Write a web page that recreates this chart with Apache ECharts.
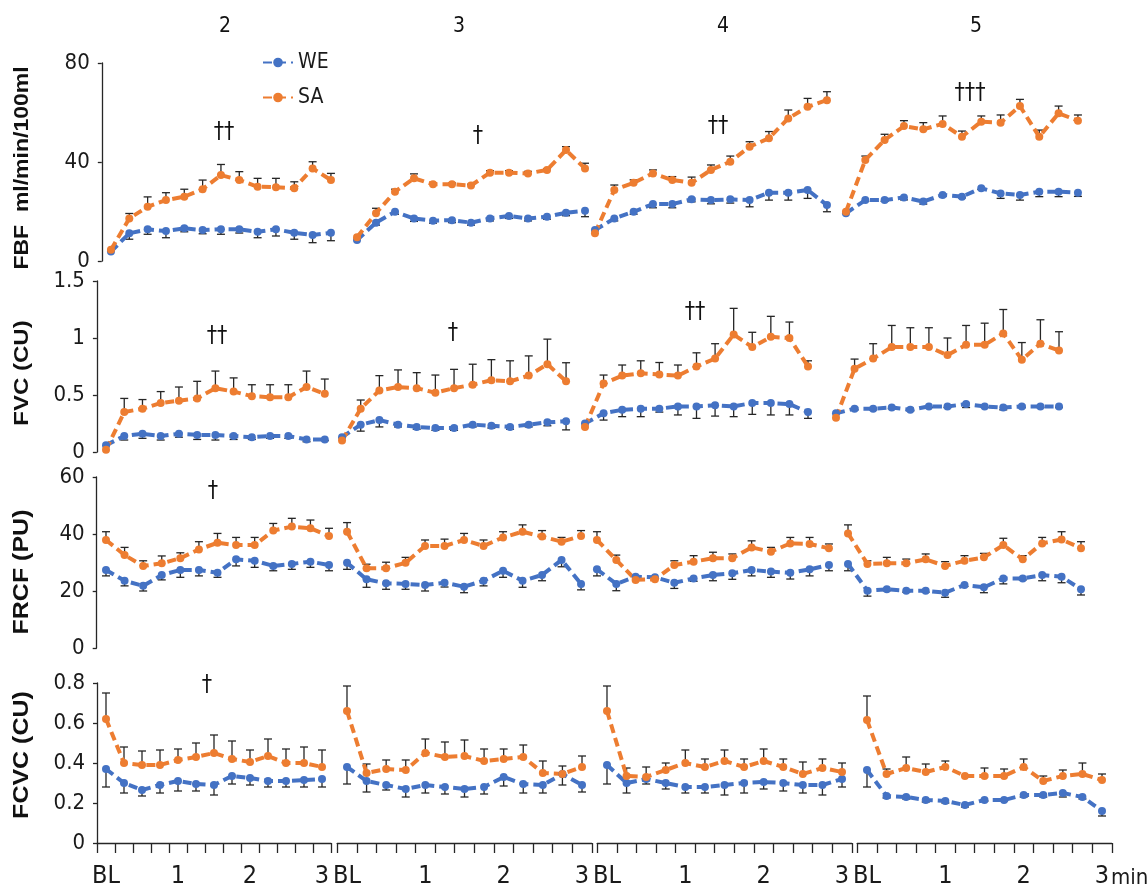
<!DOCTYPE html>
<html>
<head>
<meta charset="utf-8">
<script src="https://cdn.jsdelivr.net/npm/echarts@6/dist/echarts.min.js"></script>
<style>
  html, body { margin: 0; padding: 0; background: #fff; }
  #chart { width: 1147px; height: 893px; }
</style>
</head>
<body>
<div id="chart"></div>
<script>
// Time points inside each session block: baseline, then every 15 s up to 3 min
const timeLabels = ['BL', '', '', '', '1', '', '', '', '2', '', '', '', '3'];
const blockTitles = ['2', '3', '4', '5'];
const groupNames = ['WE', 'SA'];

// Forearm blood flow, ml/min/100ml (4 blocks x 13 points)
const fbfWE = [
  3.8, 11.2, 12.8, 12.1, 13.2, 12.5, 12.8, 12.8, 11.8, 12.8, 11.4, 10.5, 11.4,
  8.5, 15.5, 19.9, 17.2, 16.3, 16.5, 15.5, 17.2, 18.2, 17.2, 17.9, 19.5, 20.3,
  12.5, 17.2, 19.9, 23, 23, 24.9, 24.6, 24.9, 24.6, 27.6, 27.6, 28.7, 22.6,
  19.3, 24.6, 24.6, 25.7, 24, 26.7, 26, 29.4, 27.3, 26.7, 28, 28, 27.6
];
const fbfWEse = [
  0, 2.4, 2, 2.7, 1.4, 1.5, 2, 1.5, 2.4, 2.7, 2.6, 3.1, 3.2,
  0, 1, 1, 1.2, 1, 1, 1, 1, 1, 1, 1, 1.2, 2.4,
  0, 1, 1, 1.5, 1.5, 1, 1.5, 1.5, 2.7, 3, 3, 3.4, 2.7,
  0, 0.5, 0.5, 1, 1, 0.5, 0.5, 0.5, 2, 2.1, 2, 2, 1.5
];
const fbfSA = [
  4.5, 17.2, 21.9, 24.6, 26, 29, 34.7, 32.7, 30, 29.8, 29.4, 37.4, 32.7,
  9.6, 19.3, 28, 33.4, 31, 31, 30.5, 35.7, 35.7, 35.4, 36.8, 44.8, 37.4,
  11.2, 28.7, 31.6, 35.4, 32.7, 31.6, 36.8, 40.1, 46.2, 49.6, 57.6, 62.3, 65,
  19.9, 40.8, 48.9, 54.5, 53.2, 55.4, 50.2, 56.3, 55.9, 62.6, 50.2, 59.7, 56.7
];
const fbfSAse = [
  0, 2, 4, 3, 3, 3.7, 4.3, 3.4, 3.4, 3.6, 2.6, 2.7, 2.7,
  0, 2, 1, 1.8, 0.5, 0.5, 0.5, 0.8, 0.8, 0.8, 0.5, 1.4, 2.1,
  0, 2, 1.2, 1.4, 1.4, 2.3, 2, 2.3, 2, 2.7, 3.4, 3.4, 3.4,
  0, 1.6, 2.3, 2.2, 2.7, 3.2, 2.3, 2.3, 3.1, 2.7, 2.7, 2.9, 2.3
];

// Forearm vascular conductance, CU
const fvcWE = [
  0.06, 0.14, 0.16, 0.14, 0.16, 0.15, 0.15, 0.14, 0.13, 0.14, 0.14, 0.11, 0.11,
  0.13, 0.24, 0.28, 0.24, 0.22, 0.21, 0.21, 0.24, 0.23, 0.22, 0.24, 0.26, 0.27,
  0.25, 0.34, 0.37, 0.38, 0.38, 0.4, 0.4, 0.41, 0.4, 0.43, 0.43, 0.42, 0.35,
  0.34, 0.38, 0.38, 0.39, 0.37, 0.4, 0.4, 0.42, 0.4, 0.39, 0.4, 0.4, 0.4
];
const fvcWEse = [
  0, 0.035, 0.04, 0.035, 0.03, 0.04, 0.045, 0.03, 0.02, 0.02, 0.02, 0.02, 0.01,
  0, 0.057, 0.06, 0.02, 0.02, 0.02, 0.02, 0.02, 0.02, 0.02, 0.02, 0.03, 0.076,
  0, 0.06, 0.06, 0.07, 0.03, 0.075, 0.105, 0.095, 0.09, 0.1, 0.105, 0.095, 0.055,
  0, 0.01, 0.01, 0.01, 0.01, 0.01, 0.01, 0.03, 0.01, 0.02, 0.01, 0.01, 0.01
];
const fvcSA = [
  0.02, 0.35, 0.38, 0.43, 0.45, 0.47, 0.56, 0.53, 0.49, 0.48, 0.48, 0.57, 0.51,
  0.1, 0.38, 0.54, 0.57, 0.56, 0.52, 0.56, 0.59, 0.63, 0.62, 0.67, 0.77, 0.62,
  0.22, 0.6, 0.67, 0.69, 0.68, 0.67, 0.75, 0.82, 1.03, 0.92, 1.01, 1.0, 0.75,
  0.3, 0.73, 0.82, 0.92, 0.92, 0.92, 0.85, 0.94, 0.94, 1.04, 0.81, 0.95, 0.89
];
const fvcSAse = [
  0, 0.12, 0.08, 0.1, 0.12, 0.15, 0.15, 0.12, 0.1, 0.11, 0.11, 0.14, 0.13,
  0, 0.076, 0.13, 0.15, 0.136, 0.155, 0.165, 0.18, 0.18, 0.18, 0.173, 0.22, 0.163,
  0, 0.075, 0.093, 0.11, 0.105, 0.093, 0.12, 0.13, 0.23, 0.13, 0.18, 0.14, 0.05,
  0, 0.085, 0.13, 0.19, 0.17, 0.17, 0.15, 0.17, 0.19, 0.21, 0.15, 0.21, 0.165
];

// Forearm red cell flux, PU
const frcfWE = [
  27.4, 23.6, 21.8, 25.6, 27.4, 27.4, 26.4, 31.1, 30.6, 28.8, 29.5, 30.3, 29.1,
  29.9, 24.1, 22.7, 22.5, 22.1, 22.9, 21.5, 23.6, 27.1, 23.6, 25.6, 30.9, 22.5,
  27.6, 22.5, 25, 24.8, 22.9, 24.4, 25.6, 26.2, 27.4, 26.8, 26.4, 27.6, 29.1,
  29.5, 20.1, 20.6, 20.1, 20.1, 19.4, 22.1, 21.3, 24.4, 24.4, 25.6, 25, 20.6
];
const frcfWEse = [
  2.1, 1.8, 1.8, 1.7, 2.6, 2.1, 1.6, 2.3, 2.3, 1.7, 1.9, 2, 2,
  2.3, 2.8, 2.1, 1.9, 2.1, 1.5, 2.1, 1.8, 2.3, 2.3, 2, 2.4, 2.1,
  2.3, 2.4, 0, 0, 2, 1, 2, 2.1, 2.1, 2, 2.2, 2.3, 2,
  2.4, 1.9, 0.5, 0.5, 0.5, 1.6, 0.5, 1.9, 1.9, 0.5, 2, 2.1, 2
];
const frcfSA = [
  37.9, 32.6, 28.8, 29.7, 31.5, 34.6, 36.9, 36.1, 36.1, 41.2, 42.6, 42, 39.3,
  40.8, 28, 28, 29.9, 35.8, 35.8, 37.9, 35.8, 38.8, 40.8, 39.1, 37.3, 39.3,
  37.9, 30.9, 23.9, 24.1, 29.1, 30.3, 31.5, 31.5, 35.3, 33.8, 36.7, 36.5, 35,
  40.2, 29.5, 29.7, 29.7, 31.1, 28.8, 30.6, 31.8, 36.1, 31.1, 36.7, 38.1, 35
];
const frcfSAse = [
  2.9, 2.7, 1.8, 2.6, 1.9, 2.7, 3.3, 2.7, 2.7, 2.5, 2.9, 2.9, 2.7,
  3.2, 1.4, 2.1, 1.9, 2.1, 2.4, 2.3, 2.1, 2, 2.4, 2.1, 1.5, 1.9,
  2.9, 1.7, 0, 0, 1.5, 2.1, 2.1, 1.5, 2.3, 1.5, 2.1, 2.3, 1.5,
  3, 1.1, 2.1, 1.5, 1.9, 1.5, 1.8, 1.4, 2.4, 1.3, 2.1, 2.7, 2.3
];

// Forearm cutaneous vascular conductance, CU
const fcvcWE = [
  0.37, 0.3, 0.265, 0.29, 0.31, 0.295, 0.29, 0.335, 0.325, 0.31, 0.31, 0.315, 0.32,
  0.38, 0.31, 0.29, 0.27, 0.29, 0.28, 0.27, 0.28, 0.33, 0.295, 0.29, 0.345, 0.29,
  0.39, 0.3, 0.32, 0.3, 0.28, 0.28, 0.29, 0.3, 0.305, 0.3, 0.29, 0.29, 0.32,
  0.365, 0.235, 0.23, 0.215, 0.21, 0.19, 0.215, 0.215, 0.24, 0.24, 0.25, 0.23, 0.16
];
const fcvcWEse = [
  0.09, 0.05, 0.03, 0.04, 0.05, 0.035, 0.05, 0.04, 0.035, 0.03, 0.03, 0.035, 0.04,
  0.085, 0.055, 0.025, 0.04, 0.04, 0.035, 0.04, 0.035, 0.045, 0.045, 0.04, 0.055, 0.035,
  0.095, 0.05, 0.025, 0.03, 0.03, 0.03, 0.05, 0.05, 0.035, 0.04, 0.04, 0.05, 0.04,
  0.085, 0.01, 0.01, 0.01, 0.01, 0.01, 0.005, 0.005, 0.01, 0.01, 0.02, 0.01, 0.025
];
const fcvcSA = [
  0.62, 0.4, 0.39, 0.39, 0.415, 0.43, 0.45, 0.42, 0.405, 0.435, 0.4, 0.4, 0.38,
  0.66, 0.35, 0.37, 0.365, 0.45, 0.43, 0.435, 0.41, 0.42, 0.43, 0.35, 0.345, 0.38,
  0.66, 0.335, 0.33, 0.365, 0.4, 0.38, 0.41, 0.38, 0.41, 0.38, 0.345, 0.375, 0.355,
  0.615, 0.345, 0.375, 0.355, 0.38, 0.335, 0.335, 0.335, 0.38, 0.31, 0.335, 0.345, 0.315
];
const fcvcSAse = [
  0.13, 0.08, 0.07, 0.075, 0.055, 0.07, 0.09, 0.09, 0.06, 0.085, 0.07, 0.08, 0.085,
  0.125, 0.045, 0.045, 0.05, 0.07, 0.075, 0.08, 0.06, 0.05, 0.06, 0.06, 0.04, 0.055,
  0.125, 0.04, 0.05, 0.035, 0.065, 0.04, 0.055, 0.04, 0.06, 0.04, 0.06, 0.045, 0.045,
  0.12, 0.025, 0.055, 0.04, 0.03, 0, 0.04, 0.035, 0.04, 0.025, 0.03, 0.055, 0.03
];

// Significance marks above each block
const fbfMarks = ['††', '†', '††', '†††'];
const fvcMarks = ['††', '†', '††', ''];
const frcfMarks = ['†', '', '', ''];
const fcvcMarks = ['†', '', '', ''];

// Panel content
const panels = [
  { label: 'FBF  ml/min/100ml', we: fbfWE, weSE: fbfWEse, sa: fbfSA, saSE: fbfSAse, max: 80, interval: 40, marks: fbfMarks },
  { label: 'FVC (CU)', we: fvcWE, weSE: fvcWEse, sa: fvcSA, saSE: fvcSAse, max: 1.5, interval: 0.5, marks: fvcMarks },
  { label: 'FRCF (PU)', we: frcfWE, weSE: frcfWEse, sa: frcfSA, saSE: frcfSAse, max: 60, interval: 20, marks: frcfMarks },
  { label: 'FCVC (CU)', we: fcvcWE, weSE: fcvcWEse, sa: fcvcSA, saSE: fcvcSAse, max: 0.8, interval: 0.2, marks: fcvcMarks }
];

// Panel geometry (pixels): plot top/bottom, block [left, width], label and mark placement
const layout = [
  { top: 63, bottom: 261, blocks: [[101.8, 238.3], [347.5, 247], [585.3, 251.3], [836.3, 251.3]],
    labelY: 168, labelSize: 23, markPos: [[224, 132], [478, 136], [718, 126], [970, 93]] },
  { top: 281, bottom: 452, blocks: [[96.9, 237], [332.7, 242.7], [575.7, 241.6], [826.7, 241.6]],
    labelY: 373, labelSize: 24, markPos: [[217, 336], [453, 333], [695, 312], [0, 0]] },
  { top: 477, bottom: 648, blocks: [[96.7, 241.6], [337.3, 253.5], [587.3, 251.3], [838.3, 252.4]],
    labelY: 572, labelSize: 25, markPos: [[213, 491], [0, 0], [0, 0], [0, 0]] },
  { top: 683, bottom: 843, blocks: [[97, 234], [337.2, 254.6], [597.2, 254.6], [857.2, 254.6]],
    labelY: 755, labelSize: 25, markPos: [[207, 685], [0, 0], [0, 0], [0, 0]] }
];
const titlePos = [[225, 27], [459, 27], [723, 27], [976, 27]];

const NARROW = '"Liberation Sans Narrow", "DejaVu Sans Condensed", "Liberation Sans", Arial, sans-serif';
const BOLD = '"Liberation Sans", Arial, sans-serif';
const COLORS = { WE: '#4472C4', SA: '#ED7D31' };
const AXIS = '#262626';

// Error whiskers: WE drawn downward, SA upward
function errorBars(dir) {
  return function (params, api) {
    const i = api.value(0), v = api.value(1), e = api.value(2);
    if (!e) return null;
    const p0 = api.coord([i, v]);
    const p1 = api.coord([i, v + dir * e]);
    const style = { stroke: AXIS, lineWidth: 1.3 };
    return {
      type: 'group',
      children: [
        { type: 'line', shape: { x1: p0[0], y1: p0[1], x2: p1[0], y2: p1[1] }, style },
        { type: 'line', shape: { x1: p1[0] - 4, y1: p1[1], x2: p1[0] + 4, y2: p1[1] }, style }
      ]
    };
  };
}

const grid = [], xAxis = [], yAxis = [], series = [], graphic = [];

panels.forEach((p, r) => {
  const L = layout[r];
  const bottomRow = r === panels.length - 1;
  for (let b = 0; b < 4; b++) {
    const k = r * 4 + b;
    const [left, width] = L.blocks[b];
    grid.push({ left, width, top: L.top, height: L.bottom - L.top });
    xAxis.push({
      type: 'category', gridIndex: k, data: timeLabels, boundaryGap: true, show: bottomRow,
      axisLine: { show: true, lineStyle: { color: AXIS, width: 1.3 } },
      axisTick: { show: true, interval: 0, length: 10, lineStyle: { color: AXIS, width: 1.3 } },
      axisLabel: { interval: 0, margin: 21, fontFamily: NARROW, fontSize: 25, color: '#1a1a1a' },
      splitLine: { show: false }
    });
    yAxis.push({
      type: 'value', gridIndex: k, min: 0, max: p.max, interval: p.interval, show: b === 0,
      axisLine: { show: true, lineStyle: { color: AXIS, width: 1.3 } },
      axisTick: { show: true, length: 4, lineStyle: { color: AXIS, width: 1.3 } },
      axisLabel: { margin: 12, fontFamily: NARROW, fontSize: 22, color: '#1a1a1a' },
      splitLine: { show: false }
    });

    const groups = [
      { name: 'WE', vals: p.we, se: p.weSE, dir: -1 },
      { name: 'SA', vals: p.sa, se: p.saSE, dir: 1 }
    ];
    groups.forEach(g => {
      const vals = g.vals.slice(b * 13, b * 13 + 13);
      const se = g.se.slice(b * 13, b * 13 + 13);
      series.push({
        type: 'custom', name: g.name + ' SE', xAxisIndex: k, yAxisIndex: k, z: 1,
        renderItem: errorBars(g.dir),
        encode: { x: 0, y: 1 },
        data: vals.map((v, i) => [i, v, se[i]]),
        silent: true
      });
    });
    groups.forEach(g => {
      const vals = g.vals.slice(b * 13, b * 13 + 13);
      series.push({
        type: 'line', name: g.name, xAxisIndex: k, yAxisIndex: k, z: 3,
        data: vals,
        color: COLORS[g.name],
        symbol: 'circle', symbolSize: 8,
        itemStyle: { color: COLORS[g.name] },
        lineStyle: { color: COLORS[g.name], width: 4, type: [9, 5] }
      });
    });

    if (p.marks[b]) {
      graphic.push({
        type: 'text', x: L.markPos[b][0], y: L.markPos[b][1], z: 10,
        style: { text: p.marks[b], font: '23px ' + NARROW, fill: '#111',
          align: 'center', verticalAlign: 'middle', textAlign: 'center', textVerticalAlign: 'middle' }
      });
    }
  }
  // Rotated panel label on the left
  graphic.push({
    type: 'text', x: 22, y: L.labelY, rotation: Math.PI / 2, scaleY: 0.88, z: 10,
    style: { text: p.label, font: 'bold ' + L.labelSize + 'px ' + BOLD, fill: '#111',
      align: 'center', verticalAlign: 'middle', textAlign: 'center', textVerticalAlign: 'middle' }
  });
});

// Block headings
blockTitles.forEach((t, b) => {
  graphic.push({
    type: 'text', x: titlePos[b][0], y: titlePos[b][1], z: 10,
    style: { text: t, font: '21px ' + NARROW, fill: '#111',
      align: 'center', verticalAlign: 'middle', textAlign: 'center', textVerticalAlign: 'middle' }
  });
});

// Unit after the last time label
graphic.push({
  type: 'text', x: 1111, y: 878, z: 10,
  style: { text: 'min', font: '22px ' + NARROW, fill: '#1a1a1a',
    align: 'left', verticalAlign: 'middle', textAlign: 'left', textVerticalAlign: 'middle' }
});

const chart = echarts.init(document.getElementById('chart'), null, { renderer: 'canvas' });
chart.setOption({
  animation: false,
  backgroundColor: '#fff',
  legend: {
    data: groupNames, orient: 'vertical', left: 262, top: 52,
    itemWidth: 30, itemHeight: 12, itemGap: 14, padding: 0,
    textStyle: { fontFamily: NARROW, fontSize: 21, color: '#1a1a1a' }
  },
  grid, xAxis, yAxis, series, graphic
});
</script>
</body>
</html>
